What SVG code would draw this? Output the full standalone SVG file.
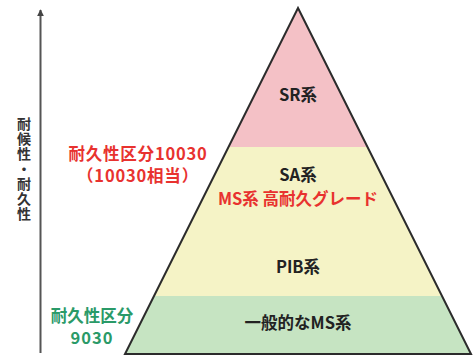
<svg xmlns="http://www.w3.org/2000/svg" width="473" height="356" viewBox="0 0 473 356">
<defs>
<style>
text{font-family:"Noto Sans CJK JP","Noto Sans",sans-serif;font-weight:bold;text-anchor:middle}
.lbl{font-size:16.5px;fill:#222}
.red{font-size:16.5px;fill:#e8322f}
.grn{font-size:16.5px;fill:#2a9a68}
</style>
<marker id="ah" viewBox="0 0 10 10" refX="9" refY="5" markerWidth="7" markerHeight="7" orient="auto" markerUnits="userSpaceOnUse">
<path d="M0,0 L10,5 L0,10 z" fill="#444"/>
</marker>
</defs>
<rect width="473" height="356" fill="#fff"/>
<g id="connectors">
<line x1="40.5" y1="353" x2="40.5" y2="10" stroke="#555" stroke-width="2" marker-end="url(#ah)"/>
</g>
<g id="axis-label">
<text x="24" y="117" style="writing-mode:vertical-rl;text-orientation:upright;text-anchor:start;font-size:14px;fill:#333;letter-spacing:1px">耐候性・耐久性</text>
</g>
<g id="pyramid">
<polygon points="298,8 228.2,147 367.8,147" fill="#f4c1c6"/>
<polygon points="228.2,147 367.8,147 442.6,296 153.4,296" fill="#f5f3c6"/>
<polygon points="153.4,296 442.6,296 471,354 125,354" fill="#c6e4c2"/>
<polygon points="298,8 471,354 125,354" fill="none" stroke="#2b2b2b" stroke-width="2" stroke-linejoin="miter"/>
</g>
<g id="sr"><text class="lbl" x="298" y="101">SR系</text></g>
<g id="sa"><text class="lbl" x="298" y="181">SA系</text></g>
<g id="ms-high"><text class="red" x="298" y="205">MS系 高耐久グレード</text></g>
<g id="pib"><text class="lbl" x="298" y="273">PIB系</text></g>
<g id="ms-general"><text class="lbl" x="298" y="329">一般的なMS系</text></g>
<g id="grade-10030">
<text class="red" x="138" y="160" letter-spacing="0.8">耐久性区分10030</text>
<text class="red" x="138" y="182" letter-spacing="0.8">（10030相当）</text>
</g>
<g id="grade-9030">
<text class="grn" x="92" y="322">耐久性区分</text>
<text class="grn" x="92" y="344" letter-spacing="1">9030</text>
</g>
</svg>
